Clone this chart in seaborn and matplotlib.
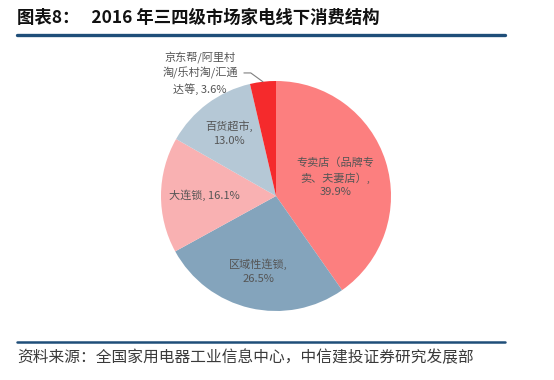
import numpy as np
import matplotlib
matplotlib.use("Agg")
import matplotlib.pyplot as plt
import seaborn as sns
from matplotlib.lines import Line2D

# data (clockwise from 12 o'clock)
categories = ["专卖店（品牌专\n卖、夫妻店）,", "区域性连锁,", "大连锁,", "百货超市,", "京东帮/阿里村\n淘/乐村淘/汇通\n达等,"]
shares = [39.9, 26.5, 16.1, 13.0, 3.6]
title = "图表8：   2016 年三四级市场家电线下消费结构"
source = "资料来源：全国家用电器工业信息中心，中信建投证券研究发展部"

colors = ["#FC7F7F", "#84A4BC", "#F9B1B2", "#B5C8D6", "#F52A2C"]
# label radius (fraction of pie radius) and joiner between name and value
label_r = [0.54, 0.67, 0.62, 0.68, None]
joiner = ["\n", "\n", " ", "\n", " "]

sns.set_theme(style="white")
plt.rcParams["font.family"] = ["Noto Sans CJK SC", "DejaVu Sans"]

fig = plt.figure(figsize=(5.54, 3.80), dpi=100)
cx, cy, r = 276, 196, 115
ax = fig.add_axes([(cx - r) / 554, (380 - cy - r) / 380, 2 * r / 554, 2 * r / 380])

wedges, _ = ax.pie(shares, colors=colors, startangle=90, counterclock=False,
                   radius=1, wedgeprops=dict(linewidth=0))
ax.set_xlim(-1, 1)
ax.set_ylim(-1, 1)
ax.set_aspect("equal")
ax.axis("off")

txt_color = "#555555"
for w, cat, val, lr, j in zip(wedges, categories, shares, label_r, joiner):
    mid = np.deg2rad((w.theta1 + w.theta2) / 2)
    label = f"{cat}{j}{val:.1f}%"
    if lr is not None:
        ax.text(lr * np.cos(mid), lr * np.sin(mid), label, ha="center", va="center",
                fontsize=8, color=txt_color, linespacing=1.45)
    else:
        ax.annotate(label, xy=(np.cos(mid), np.sin(mid)), xytext=(-0.66, 1.07),
                    ha="center", va="center", fontsize=8, color=txt_color, linespacing=1.45,
                    annotation_clip=False,
                    arrowprops=dict(arrowstyle="-", color="#7f7f7f", lw=0.8,
                                    shrinkA=2, shrinkB=0,
                                    connectionstyle="angle,angleA=0,angleB=-36,rad=0",
                                    relpos=(1.0, 0.5)))

fig.text(17 / 554, 1 - 18 / 380, title, fontsize=12.5, fontweight="bold",
         color="#111111", ha="left", va="center")
fig.add_artist(Line2D([17 / 554, 505 / 554], [1 - 35 / 380] * 2, color="#1F4E79", lw=2.4))
fig.add_artist(Line2D([17 / 554, 505 / 554], [1 - 342 / 380] * 2, color="#1F4E79", lw=1.8))
fig.text(17 / 554, 1 - 358 / 380, source, fontsize=11.3, color="#3a3a3a",
         ha="left", va="center", style="italic")

fig.savefig("out.png", dpi=100)
